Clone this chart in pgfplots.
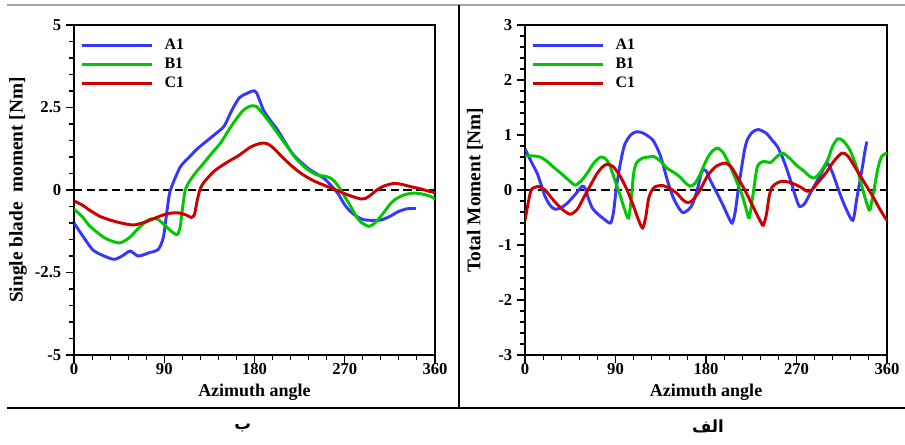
\documentclass[border=0pt]{standalone}
\usepackage{pgfplots}
\pgfplotsset{compat=1.18}
\usepackage{fontspec}
\setmainfont{Liberation Serif}
\newfontfamily\arabicfont[Script=Arabic]{DejaVu Sans}
\TeXXeTstate=1
\definecolor{cA}{RGB}{55,55,250}
\definecolor{cB}{RGB}{0,200,0}
\definecolor{cC}{RGB}{205,0,0}
\pgfplotsset{
  myaxis/.style={
    scale only axis, anchor=south west,
    xmin=0, xmax=360,
    xtick={0,90,180,270,360}, xticklabels={0,90,180,270,360},
    minor x tick num=4,
    tick align=outside, tick pos=left,
    major tick length=6pt, minor tick length=3.5pt,
    every tick/.style={black, line width=0.8pt},
    axis line style={line width=0.9pt},
    tick label style={font=\bfseries\fontsize{12.5}{12.5}\selectfont},
    xticklabel style={inner ysep=1pt, yshift=1pt},
    xlabel style={font=\bfseries\fontsize{13.5}{13.5}\selectfont, at={(axis description cs:0.5,-0.112)}, anchor=center, inner ysep=0.5pt},
    ylabel style={font=\bfseries\fontsize{14.5}{14.5}\selectfont, rotate=0, anchor=center},
    legend style={draw=none, fill=none, at={(axis description cs:0.0,0.975)}, xshift=1.5pt, anchor=north west,
      font=\bfseries\fontsize{12}{12}\selectfont, row sep=1pt,
      /tikz/every odd column/.append style={column sep=6pt}},
    legend cell align=left,
    legend image code/.code={\draw[#1] (0pt,0pt) -- (53pt,0pt);},
    every axis plot/.append style={line width=2.2pt, smooth, tension=0.45},
    clip=true,
  }
}
\begin{document}
\begin{tikzpicture}
\path[use as bounding box] (0pt,0pt) rectangle (678.75pt,-333pt);
\draw[gray!70, line width=1.2pt] (5.25pt,-3.75pt) -- (678.75pt,-3.75pt);
\draw[black, line width=1.5pt] (5.25pt,-306pt) -- (678.75pt,-306pt);
\draw[black, line width=1.5pt] (344.25pt,-3.75pt) -- (344.25pt,-306pt);
\node[font=\arabicfont\bfseries\fontsize{12.5}{12.5}\selectfont] at (182pt,-321pt) {\beginR ب\endR};
\node[font=\arabicfont\bfseries\fontsize{12.5}{12.5}\selectfont] at (531pt,-320pt) {\beginR الف\endR};

% ---------------- left: single blade ----------------
\begin{axis}[myaxis, at={(55.5pt,-266.25pt)}, width=270.75pt, height=247.5pt,
  ymin=-5, ymax=5, ytick={-5,-2.5,0,2.5,5}, yticklabels={-5,-2.5,0,2.5,5}, minor y tick num=4,
  xlabel={Azimuth angle}, ylabel={Single blade\ \ moment [Nm]},
  ylabel style={at={(axis description cs:-0.155,0.5)}, rotate=0}]
\addplot[black, line width=0.9pt, dash pattern=on 6pt off 3.5pt, forget plot, smooth=false] coordinates {(0,0) (360,0)};
\addplot[cA] coordinates {(0,-1.0) (10,-1.45) (19,-1.82) (30,-2.0) (40,-2.1) (48,-2.0) (56,-1.85) (64,-2.0) (75,-1.9) (84,-1.8) (89,-1.45) (92,-0.8) (95,-0.15) (98,0.15) (106,0.7) (115,1.0) (123,1.25) (135,1.55) (145,1.8) (150,1.95) (158,2.45) (165,2.8) (172,2.92) (178,3.0) (182,2.95) (189,2.42) (196,2.1) (203,1.82) (211,1.42) (219,1.06) (228,0.8) (236,0.6) (249,0.36) (256,0.15) (263,-0.1) (270,-0.45) (276,-0.66) (283,-0.82) (289,-0.9) (298,-0.92) (306,-0.91) (315,-0.8) (323,-0.66) (332,-0.57) (341,-0.56)};
\addlegendentry{A1}
\addplot[cB] coordinates {(0,-0.58) (8,-0.8) (16,-1.1) (29,-1.42) (38,-1.55) (46,-1.6) (55,-1.45) (63,-1.2) (70,-1.0) (76,-0.88) (83,-0.88) (90,-1.05) (97,-1.25) (103,-1.35) (106,-1.1) (108,-0.6) (111,0) (116,0.3) (122,0.55) (129,0.8) (137,1.1) (146,1.42) (155,1.85) (163,2.2) (170,2.45) (177,2.55) (182,2.53) (186,2.4) (194,2.1) (203,1.72) (213,1.3) (223,0.9) (233,0.62) (243,0.45) (250,0.42) (256,0.36) (260,0.25) (264,0.1) (270,-0.2) (276,-0.5) (281,-0.78) (286,-0.97) (294,-1.1) (300,-1.0) (308,-0.72) (316,-0.4) (322,-0.25) (329,-0.15) (336,-0.1) (343,-0.1) (350,-0.14) (356,-0.2) (360,-0.27)};
\addlegendentry{B1}
\addplot[cC] coordinates {(0,-0.33) (8,-0.45) (16,-0.62) (26,-0.8) (36,-0.91) (47,-1.0) (59,-1.06) (68,-1.0) (76,-0.91) (85,-0.8) (93,-0.72) (100,-0.69) (106,-0.7) (112,-0.76) (117,-0.83) (120,-0.75) (123,-0.3) (126,0.05) (130,0.25) (139,0.55) (147,0.73) (156,0.9) (163,1.02) (169,1.15) (176,1.3) (183,1.39) (188,1.42) (193,1.4) (199,1.27) (207,1.02) (216,0.76) (223,0.58) (229,0.45) (239,0.28) (249,0.15) (259,0.03) (269,-0.1) (278,-0.2) (286,-0.27) (291,-0.25) (296,-0.15) (302,0.0) (309,0.12) (319,0.2) (327,0.17) (336,0.1) (345,0.04) (353,-0.03) (360,-0.08)};
\addlegendentry{C1}
\end{axis}

% ---------------- right: total ----------------
\begin{axis}[myaxis, at={(393.75pt,-266.25pt)}, width=271.5pt, height=247.5pt,
  ymin=-3, ymax=3, ytick={-3,-2,-1,0,1,2,3}, yticklabels={-3,-2,-1,0,1,2,3}, minor y tick num=4,
  xlabel={Azimuth angle}, ylabel={Total Moment [Nm]},
  ylabel style={at={(axis description cs:-0.138,0.5)}, rotate=0}]
\addplot[black, line width=0.9pt, dash pattern=on 6pt off 3.5pt, forget plot, smooth=false] coordinates {(0,0) (360,0)};
\addplot[cA] coordinates {(0,0.75) (4,0.6) (8,0.45) (12,0.31) (16,0.1) (20,-0.12) (25,-0.28) (30,-0.35) (36,-0.32) (42,-0.24) (50,-0.08) (57,0.07) (60,0.02) (63,-0.15) (67,-0.33) (72,-0.43) (78,-0.52) (85,-0.6) (88,-0.4) (91,0.06) (95,0.5) (99,0.82) (105,1.0) (111,1.06) (118,1.03) (127,0.91) (133,0.7) (137,0.48) (142,0.15) (147,-0.12) (152,-0.3) (157,-0.41) (163,-0.35) (167,-0.24) (172,0.05) (175,0.3) (177,0.36) (180,0.35) (185,0.15) (191,-0.06) (197,-0.28) (202,-0.48) (206,-0.6) (209,-0.4) (212,0.0) (214,0.24) (218,0.7) (221,0.91) (226,1.05) (232,1.1) (240,1.03) (246,0.9) (251,0.79) (257,0.55) (264,0.18) (269,-0.12) (273,-0.3) (278,-0.25) (283,-0.08) (287,0.05) (293,0.25) (298,0.42) (301,0.48) (305,0.35) (309,0.15) (313,-0.06) (319,-0.33) (326,-0.55) (330,-0.15) (335,0.36) (338,0.7) (340,0.88)};
\addlegendentry{A1}
\addplot[cB] coordinates {(0,0.62) (8,0.62) (15,0.6) (22,0.52) (28,0.42) (36,0.3) (44,0.17) (50,0.09) (56,0.17) (62,0.31) (68,0.48) (75,0.6) (80,0.57) (84,0.46) (89,0.2) (95,-0.12) (99,-0.35) (103,-0.51) (106,-0.1) (108,0.3) (111,0.5) (117,0.58) (123,0.6) (128,0.61) (135,0.52) (141,0.4) (148,0.32) (154,0.24) (159,0.14) (164,0.07) (169,0.12) (174,0.28) (178,0.45) (182,0.6) (187,0.72) (192,0.76) (197,0.68) (201,0.55) (206,0.35) (211,0.13) (216,-0.1) (220,-0.35) (223,-0.5) (227,-0.05) (231,0.42) (237,0.52) (244,0.5) (250,0.6) (256,0.67) (263,0.58) (270,0.45) (277,0.35) (283,0.25) (288,0.22) (294,0.33) (301,0.55) (306,0.8) (311,0.93) (316,0.9) (323,0.73) (330,0.4) (336,0.0) (340,-0.25) (343,-0.36) (347,0.0) (351,0.4) (355,0.62) (360,0.67)};
\addlegendentry{B1}
\addplot[cC] coordinates {(0,-0.55) (3,-0.25) (6,0.0) (10,0.05) (14,0.06) (20,0.0) (28,-0.18) (37,-0.35) (45,-0.44) (52,-0.35) (58,-0.15) (64,0.05) (71,0.28) (77,0.42) (82,0.47) (88,0.42) (95,0.24) (102,-0.02) (108,-0.3) (113,-0.55) (117,-0.69) (120,-0.5) (123,-0.15) (127,0.02) (131,0.07) (137,0.08) (144,0.03) (151,-0.06) (157,-0.18) (162,-0.23) (167,-0.18) (174,0.0) (182,0.27) (190,0.43) (199,0.49) (205,0.42) (211,0.24) (218,0.02) (224,-0.2) (230,-0.42) (235,-0.6) (237,-0.64) (240,-0.45) (243,-0.1) (246,0.06) (251,0.13) (256,0.16) (263,0.14) (270,0.09) (276,0.03) (280,-0.02) (285,0.0) (292,0.15) (300,0.33) (307,0.52) (315,0.67) (321,0.62) (330,0.36) (338,0.12) (346,-0.12) (352,-0.32) (358,-0.5) (360,-0.55)};
\addlegendentry{C1}
\end{axis}
\end{tikzpicture}
\end{document}
